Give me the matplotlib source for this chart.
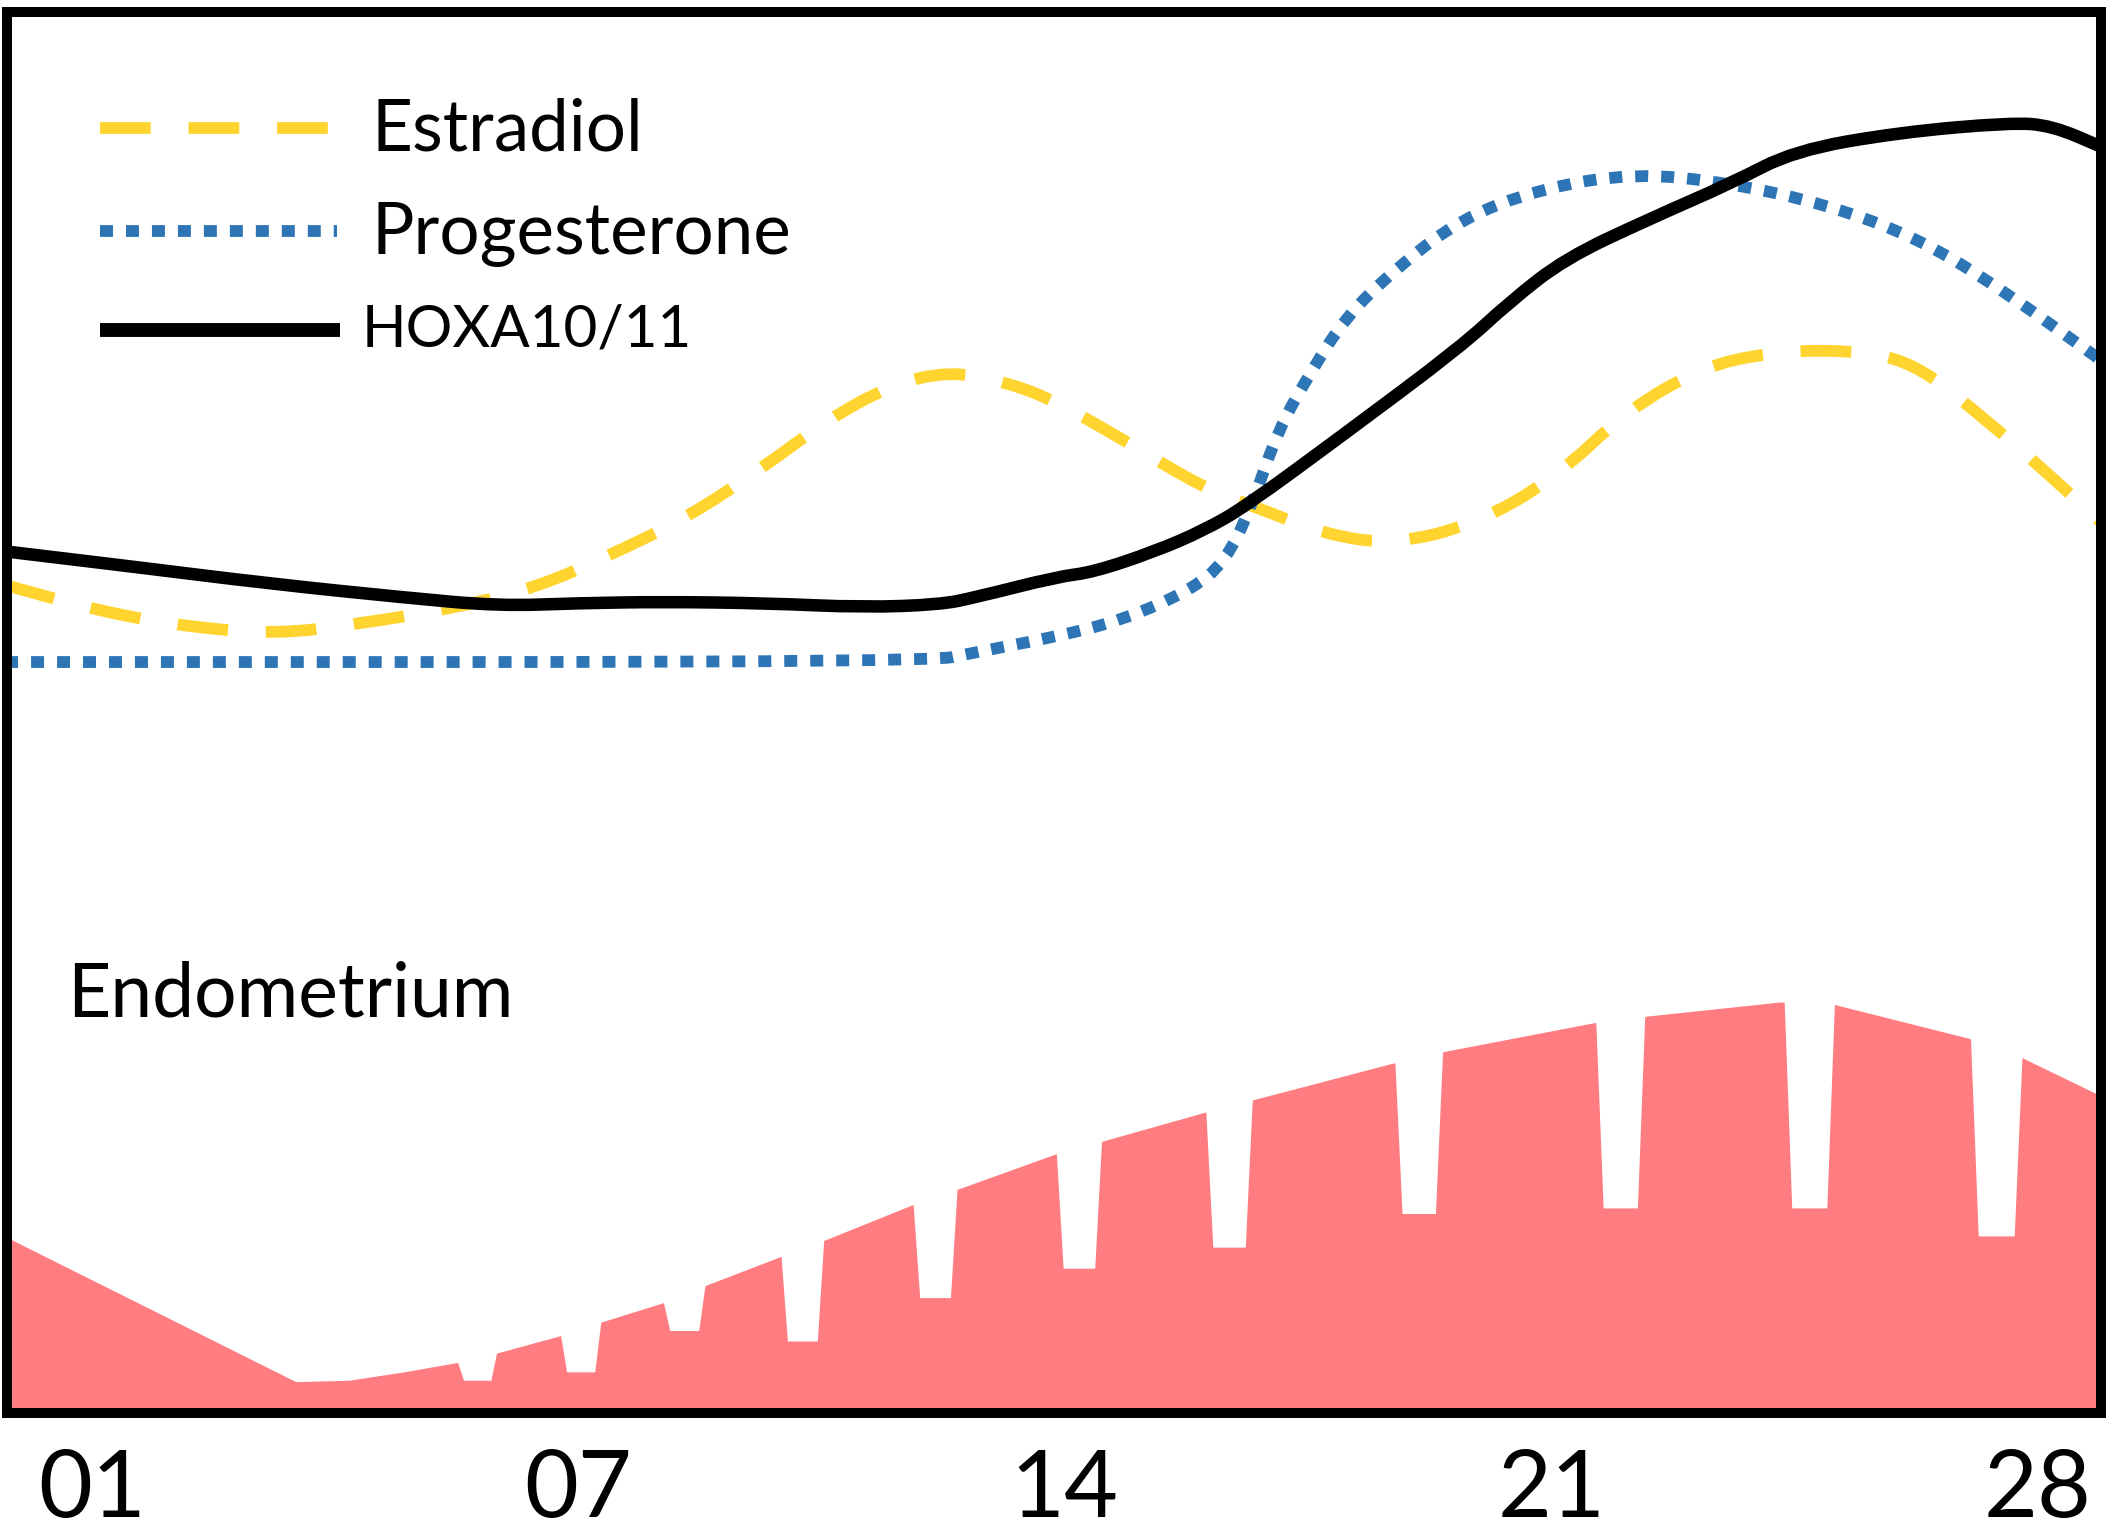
import matplotlib.pyplot as plt
import numpy as np
from matplotlib.path import Path
from matplotlib.patches import PathPatch

plt.rcParams["font.family"] = ["Lato", "DejaVu Sans"]

# cycle day positions of the tick labels
tick_days = [0, 7, 14, 21, 28]
tick_labels = ["01", "07", "14", "21", "28"]

# relative levels (0-100)
estradiol_day = [-1.25, 0.13, 1.4, 2.65, 3.81, 5.27, 6.43, 7.4, 8.56, 9.63, 10.59,
                 11.47, 12.33, 13.21, 13.87, 14.83, 16.0, 16.78, 17.75, 18.72,
                 19.89, 21.05, 22.1, 23.2, 24.15, 25.2, 26.2, 27.25, 28.0, 28.95]
estradiol_level = [59.1, 57.2, 56.1, 55.6, 56.3, 57.5, 59.0, 61.1, 63.9, 67.4, 70.9,
                   73.3, 74.4, 73.5, 72.2, 69.5, 66.0, 64.6, 62.7, 62.0,
                   63.4, 66.7, 71.6, 74.7, 75.7, 75.9, 75.1, 70.9, 67.7, 63.4]

progesterone_day = [-1.25, 12.04, 12.72, 13.87, 14.83, 15.8, 16.3, 16.68, 17.07,
                    17.55, 18.04, 18.72, 19.68, 20.85, 22.2, 23.57, 25.0, 26.3,
                    27.45, 28.95]
progesterone_level = [53.6, 53.6, 54.3, 55.4, 56.6, 58.7, 60.7, 64.6, 70.2,
                      74.4, 78.2, 81.5, 85.2, 87.4, 88.5, 87.8, 86.2, 83.8,
                      80.3, 75.0]

hoxa_day = [-1.25, 0.6, 2.55, 4.5, 5.85, 7.0, 8.2, 9.7, 11.1, 12.2, 12.7, 13.9,
            14.4, 15.3, 16.0, 16.6, 18.0, 19.7, 20.4, 21.2, 22.4, 23.6, 24.5,
            26.0, 27.6, 28.2, 28.95]
hoxa_level = [61.5, 60.4, 59.2, 58.2, 57.6, 57.8, 57.9, 57.8, 57.5, 57.7, 58.2,
              59.7, 60.0, 61.5, 63.0, 64.7, 69.8, 76.1, 79.3, 82.4, 85.2, 87.8,
              90.1, 91.4, 92.1, 91.9, 90.3]

# endometrium thickness (outer surface) and glands cut into it
endo_day = [-1.3, 2.94, 3.7, 4.5, 5.3, 5.8, 6.76, 7.3, 8.27, 8.8, 9.9, 10.6,
            11.8, 12.5, 13.9, 14.5, 16.0, 16.7, 18.7, 19.5, 21.6, 22.4, 24.3,
            25.1, 27.1, 27.75, 29.0]
endo_level = [12.7, 2.2, 2.3, 2.9, 3.6, 4.2, 5.5, 6.4, 7.9, 9.0, 11.1, 12.4,
              14.8, 16.0, 18.5, 19.3, 21.4, 22.3, 24.9, 25.8, 27.8, 28.3, 29.3,
              29.1, 26.6, 25.4, 22.4]
gland_day = [5.55, 7.04, 8.53, 10.23, 12.14, 14.21, 16.37, 19.1, 22.0, 24.72, 27.41]
gland_bottom = [2.3, 2.9, 5.85, 5.1, 8.2, 10.3, 11.8, 14.2, 14.6, 14.6, 12.6]

fig = plt.figure(figsize=(21.13, 15.33), dpi=100)
ax = fig.add_axes([0.0033, 0.0783, 0.9910, 0.9139])


def smooth_path(xs, ys):
    # quadratic curves through the midpoints, the read points act as controls
    pts = np.column_stack([xs, ys])
    verts = [pts[0], (pts[0] + pts[1]) / 2]
    codes = [Path.MOVETO, Path.LINETO]
    for i in range(1, len(pts) - 1):
        verts += [pts[i], (pts[i] + pts[i + 1]) / 2]
        codes += [Path.CURVE3, Path.CURVE3]
    verts.append(pts[-1])
    codes.append(Path.LINETO)
    return Path(verts, codes)


def endometrium_outline(days, levels, centers, bottoms):
    top_w = np.linspace(0.56, 0.74, len(centers)) / 2
    bot_w = top_w * 0.7
    pts = [(d, l) for d, l in zip(days, levels)
           if not any(abs(d - c) < w for c, w in zip(centers, top_w))]
    for c, b, wt, wb in zip(centers, bottoms, top_w, bot_w):
        left = np.interp(c - wt, days, levels)
        right = np.interp(c + wt, days, levels)
        bend = wb + 0.15 * (wt - wb)
        pts.append((c - wt, left))
        pts.append((c - bend, b + 0.15 * (left - b)))
        pts.append((c - wb, b))
        pts.append((c + wb, b))
        pts.append((c + bend, b + 0.15 * (right - b)))
        pts.append((c + wt, right))
    pts.sort(key=lambda p: p[0])
    xs = [p[0] for p in pts] + [days[-1], days[0]]
    ys = [p[1] for p in pts] + [-1, -1]
    return xs, ys


ex, ey = endometrium_outline(endo_day, endo_level, gland_day, gland_bottom)
ax.fill(ex, ey, color="#FF7C80", lw=0, zorder=1)

yellow = "#FFD42E"
blue = "#2E75B6"
ax.add_patch(PathPatch(smooth_path(estradiol_day, estradiol_level), fill=False,
                       edgecolor=yellow, lw=8.5, linestyle=(0, (4.3, 3.2)), zorder=3))
ax.add_patch(PathPatch(smooth_path(progesterone_day, progesterone_level), fill=False,
                       edgecolor=blue, lw=8.5, linestyle=(0, (1.1, 1.1)), zorder=3))
ax.add_patch(PathPatch(smooth_path(hoxa_day, hoxa_level), fill=False,
                       edgecolor="black", lw=9, zorder=4, capstyle="round",
                       joinstyle="round"))

# legend drawn by hand
ax.plot([0.0444, 0.1545], [0.9172, 0.9172], transform=ax.transAxes, color=yellow,
        lw=8.5, linestyle=(0, (4.3, 3.2)))
ax.plot([0.0444, 0.1576], [0.8437, 0.8437], transform=ax.transAxes, color=blue,
        lw=8.5, linestyle=(0, (1.1, 1.1)))
ax.plot([0.0444, 0.1590], [0.7730, 0.7730], transform=ax.transAxes, color="black",
        lw=10, solid_capstyle="butt")
ax.text(0.1743, 0.9008, "Estradiol", transform=ax.transAxes, fontsize=51, va="baseline")
ax.text(0.1743, 0.8273, "Progesterone", transform=ax.transAxes, fontsize=51, va="baseline")
ax.text(0.1695, 0.7609, "HOXA10/11", transform=ax.transAxes, fontsize=42, va="baseline")
ax.text(0.0287, 0.2827, "Endometrium", transform=ax.transAxes, fontsize=54, va="baseline")

ax.set_xlim(-1.223, 28.91)
ax.set_ylim(0, 100)
ax.set_xticks(tick_days)
ax.set_xticklabels(tick_labels, fontsize=67)
ax.set_yticks([])
ax.tick_params(axis="x", length=0, pad=26)
for s in ax.spines.values():
    s.set_linewidth(7.2)
    s.set_zorder(5)

fig.savefig("out.png", dpi=100)
